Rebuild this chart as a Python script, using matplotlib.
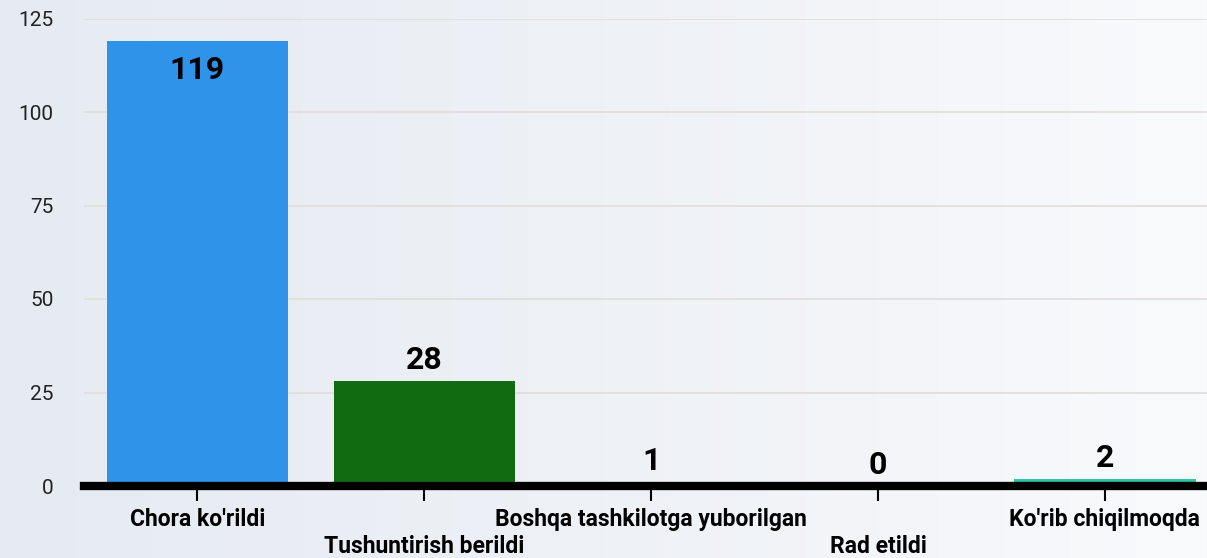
import numpy as np
import matplotlib.pyplot as plt
from matplotlib.colors import LinearSegmentedColormap

plt.rcParams["font.family"] = ["Roboto", "DejaVu Sans"]

# 数据
CATEGORIES = ["Chora ko'rildi", "Tushuntirish berildi", "Boshqa tashkilotga yuborilgan",
              "Rad etildi", "Ko'rib chiqilmoqda"]
VALUES = [119, 28, 1, 0, 2]
COLORS = ["#2f93ea", "#116c11", "#f0a030", "#9b59b6", "#2ec4a6"]
Y_TICKS = [0, 25, 50, 75, 100, 125]


def main():
    W, H = 1207, 558
    fig = plt.figure(figsize=(W / 100, H / 100), dpi=100)

    # 背景渐变
    bg = fig.add_axes([0, 0, 1, 1], zorder=-10)
    grad = np.linspace(0, 1, 256).reshape(1, -1)
    cmap = LinearSegmentedColormap.from_list("bg", ["#e6ebf2", "#eef1f6", "#f9fafc"])
    bg.imshow(grad, aspect="auto", cmap=cmap, extent=[0, 1, 0, 1])
    bg.axis("off")

    left = 84 / W
    bottom = (H - 486) / H
    top = (H - 18.5) / H
    ax = fig.add_axes([left, bottom, 1 - left, top - bottom])
    ax.set_facecolor("none")

    x = np.arange(len(CATEGORIES))
    bars = ax.bar(x, VALUES, width=0.8, color=COLORS, zorder=2)

    ax.set_ylim(0, 125)
    ax.set_xlim(-0.5, 4.45)
    ax.set_yticks(Y_TICKS)
    ax.yaxis.grid(True, color="#e2dfdb", linewidth=1.3, zorder=0)
    ax.set_axisbelow(True)

    for s in ["top", "right", "left"]:
        ax.spines[s].set_visible(False)
    ax.spines["bottom"].set_linewidth(6)
    ax.spines["bottom"].set_color("black")
    ax.spines["bottom"].set_zorder(3)

    ax.tick_params(axis="y", length=0, pad=22, labelsize=15, labelcolor="#222222")
    ax.tick_params(axis="x", length=11, width=1.5, color="black", pad=5)
    ax.set_xticks(x)
    labels = [c if i % 2 == 0 else "\n" + c for i, c in enumerate(CATEGORIES)]
    ax.set_xticklabels(labels, fontsize=16.5, fontweight="bold", linespacing=1.2)

    for b, v in zip(bars, VALUES):
        cx = b.get_x() + b.get_width() / 2
        if v > 100:
            ax.annotate(str(v), (cx, v), xytext=(0, -21), textcoords="offset points",
                        ha="center", va="center", fontsize=23, fontweight="bold", color="black")
        else:
            ax.annotate(str(v), (cx, v), xytext=(0, 15), textcoords="offset points",
                        ha="center", va="center", fontsize=23, fontweight="bold", color="black")

    fig.savefig("out.png", dpi=100)


if __name__ == '__main__':
    main()
